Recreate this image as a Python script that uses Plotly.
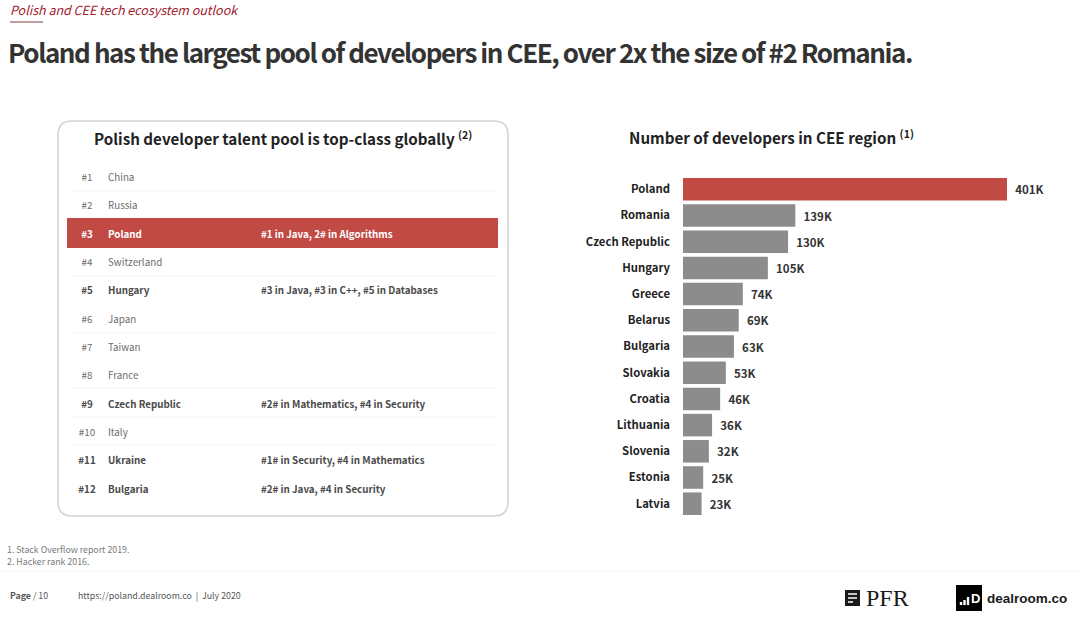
import plotly.graph_objects as go

# developers per country, in thousands
countries = ["Poland", "Romania", "Czech Republic", "Hungary", "Greece", "Belarus", "Bulgaria",
             "Slovakia", "Croatia", "Lithuania", "Slovenia", "Estonia", "Latvia"]
developers = [401, 139, 130, 105, 74, 69, 63, 53, 46, 36, 32, 25, 23]

# ranking table
ranks = [1, 2, 3, 4, 5, 6, 7, 8, 9, 10, 11, 12]
rank_countries = ["China", "Russia", "Poland", "Switzerland", "Hungary", "Japan", "Taiwan", "France",
                  "Czech Republic", "Italy", "Ukraine", "Bulgaria"]
rank_notes = ["", "", "#1 in Java, 2# in Algorithms", "", "#3 in Java, #3 in C++, #5 in Databases", "", "", "",
              "#2# in Mathematics, #4 in Security", "", "#1# in Security, #4 in Mathematics",
              "#2# in Java, #4 in Security"]

FONT = "Noto Sans CJK JP"
W, H = 1080, 619
RED = "#c24a45"
GREY = "#8c8c8c"


def px(x):
    return x / W


def py(y):
    return 1 - y / H


def text(x, y, s, size, color, anchor="left", font=FONT):
    # annotations sit about 2px inside their anchor
    shift = -2 if anchor == "left" else 0
    fig.add_annotation(xref="paper", yref="paper", x=px(x + shift), y=py(y), text=s, showarrow=False,
                       xanchor=anchor, yanchor="middle", align=anchor,
                       font=dict(family=font, size=size, color=color))


def line(x0, y0, x1, y1, color, width=1):
    fig.add_shape(type="line", xref="paper", yref="paper", x0=px(x0), y0=py(y0), x1=px(x1), y1=py(y1),
                  line=dict(color=color, width=width))


def box(x0, y0, x1, y1, color, layer="above"):
    fig.add_shape(type="rect", xref="paper", yref="paper", x0=px(x0), y0=py(y0), x1=px(x1), y1=py(y1),
                  fillcolor=color, line=dict(width=0), layer=layer)


fig = go.Figure()

# right hand bars
fig.add_trace(go.Bar(
    x=developers, y=countries, orientation="h", xaxis="x", yaxis="y", width=0.86,
    marker=dict(color=[RED] + [GREY] * (len(countries) - 1), line=dict(width=0)),
    text=[f"\u00a0\u00a0{v}K" for v in developers], textposition="outside", cliponaxis=False,
    textfont=dict(family=FONT, size=11.5, color="#333333", weight="bold"),
))

# table text, one trace per column
highlight = [n != "" for n in rank_notes]
colors = ["#ffffff" if r == 3 else ("#4a4a4a" if b else "#6e6e6e") for r, b in zip(ranks, highlight)]


def cell(values):
    return [f"<b>{v}</b>" if b else v for v, b in zip(values, highlight)]


for col_x, values, pos in [(87, [f"#{r}" for r in ranks], "middle center"),
                           (108, rank_countries, "middle right"),
                           (261, rank_notes, "middle right")]:
    # rows without a note get no text element at all
    keep = [i for i, v in enumerate(values) if v != ""]
    shown = cell(values)
    fig.add_trace(go.Scatter(
        x=[col_x] * len(keep), y=[ranks[i] for i in keep], mode="text",
        text=[shown[i] for i in keep], textposition=pos,
        textfont=dict(family=FONT, size=9.8, color=[colors[i] for i in keep]),
        xaxis="x2", yaxis="y2", hoverinfo="skip",
    ))

fig.update_layout(
    width=W, height=H, margin=dict(l=0, r=0, t=0, b=0), showlegend=False,
    paper_bgcolor="white", plot_bgcolor="rgba(0,0,0,0)", bargap=0.14,
    xaxis=dict(domain=[px(683), px(1007)], range=[0, 401], visible=False),
    yaxis=dict(domain=[py(516.8), py(176.2)], autorange="reversed", showline=False, showgrid=False,
               ticks="", ticklabelstandoff=12,
               tickfont=dict(family=FONT, size=11.3, color="#222222", weight="bold")),
    xaxis2=dict(domain=[0, 1], range=[0, W], visible=False, anchor="y2"),
    yaxis2=dict(domain=[py(504.45), py(164.55)], range=[12.5, 0.5], visible=False, anchor="x2"),
)

# header
text(10, 10, "<i>Polish and CEE tech ecosystem outlook</i>", 12.5, "#a3202e")
line(10, 22, 43, 22, "#7a3a3a", 1)
text(8, 51, "<b>Poland has the largest pool of developers in CEE, over 2x the size of #2 Romania.</b>", 26, "#333333")

# table frame
fig.add_shape(type="path", xref="paper", yref="paper", line=dict(color="#d2d2d2", width=1.5),
              path=" ".join([
                  f"M {px(72)} {py(121)} L {px(494)} {py(121)}",
                  f"Q {px(508)} {py(121)} {px(508)} {py(135)} L {px(508)} {py(502)}",
                  f"Q {px(508)} {py(516)} {px(494)} {py(516)} L {px(72)} {py(516)}",
                  f"Q {px(58)} {py(516)} {px(58)} {py(502)} L {px(58)} {py(135)}",
                  f"Q {px(58)} {py(121)} {px(72)} {py(121)} Z"]))
box(67, 218, 498, 248, RED, layer="below")
for sep_y in [191, 276, 333, 388, 417, 445]:
    line(72, sep_y, 496, sep_y, "#f5f5f5", 1)

text(283, 138, "<b>Polish developer talent pool is top-class globally <sup>(2)</sup></b>", 15.2, "#222222", "center")
text(771, 137, "<b>Number of developers in CEE region <sup>(1)</sup></b>", 15.2, "#222222", "center")

# notes and footer
text(7, 549, "1. Stack Overflow report 2019.", 8.8, "#7a7a7a")
text(7, 561, "2. Hacker rank 2016.", 8.8, "#7a7a7a")
line(0, 571, W, 571, "#f4f4f4", 1)
text(10, 595, "<b>Page</b> / 10", 8.8, "#555555")
text(78, 595, "https://poland.dealroom.co  |  July 2020", 8.8, "#555555")

# logos
box(845, 590, 860, 606, "#1a1a1a")
for bar_y, bar_end in [(594, 857), (598, 857), (602, 853)]:
    line(848, bar_y, bar_end, bar_y, "white", 1.5)
text(866, 598, "PFR", 24, "#1a1a1a", font="Liberation Serif")
box(956, 585, 982, 611, "#000000")
for bar_x, bar_top in [(961, 602), (964.5, 600), (968, 597)]:
    box(bar_x - 1.2, bar_top, bar_x + 1.2, 605, "white")
text(975, 598, "<b>D</b>", 13, "white", "center", font="Liberation Sans")
text(987, 598, "<b>dealroom.co</b>", 13.5, "#1a1a1a", font="Liberation Sans")

# the headline is set tight in the original
squeeze = """
document.body.style.margin='0';
document.querySelectorAll('.annotation-text').forEach(function (t) {
  if (t.textContent.indexOf('Poland has') === 0) { t.style.letterSpacing = '-1.42px'; }
});
"""
fig.write_html("out.html", config=dict(displayModeBar=False), post_script=squeeze)
